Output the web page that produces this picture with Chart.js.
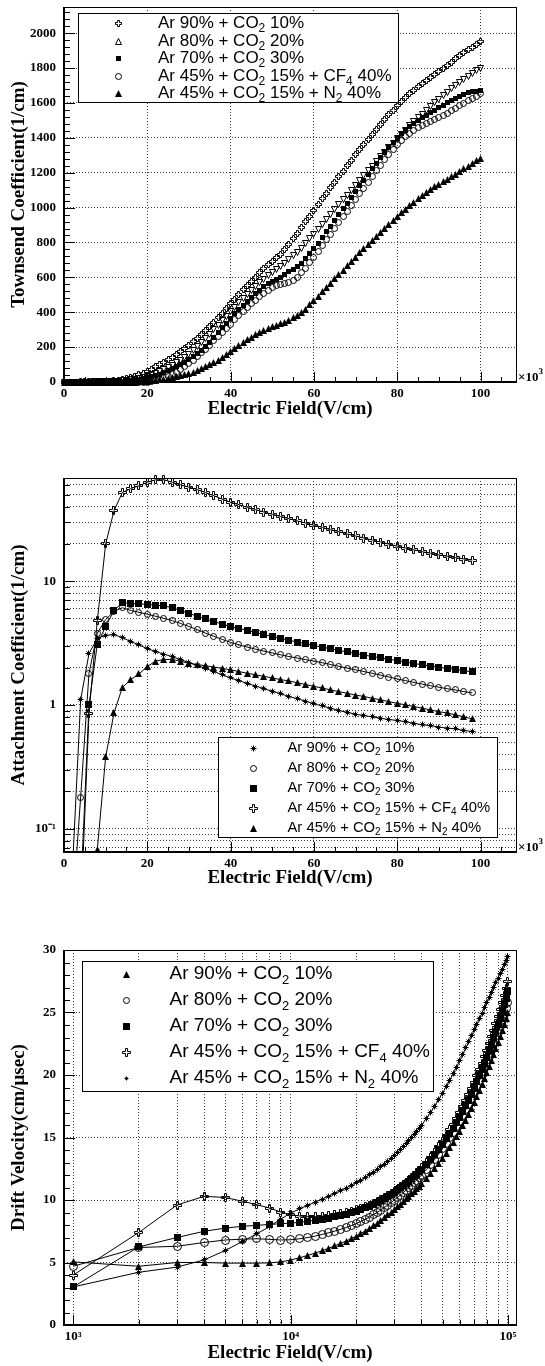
<!DOCTYPE html>
<html>
<head>
<meta charset="utf-8">
<script src="https://cdn.jsdelivr.net/npm/chart.js@4.4.1/dist/chart.umd.min.js"></script>
<style>
    html, body { margin: 0; padding: 0; background: #fff; }
    body { width: 545px; height: 1366px; position: relative; overflow: hidden; }
    canvas { position: absolute; left: 0; display: block; }
</style>
</head>
<body>
<canvas id="townsend" width="545" height="440" style="top:0px"></canvas>
<canvas id="attach" width="545" height="460" style="top:440px"></canvas>
<canvas id="drift" width="545" height="466" style="top:900px"></canvas>
<script>
// legend names, same order in the three panels
const gasMixtures = ['Ar 90% + CO_2 10%', 'Ar 80% + CO_2 20%', 'Ar 70% + CO_2 30%',
    'Ar 45% + CO_2 15% + CF_4 40%', 'Ar 45% + CO_2 15% + N_2 40%'];

// ---- Townsend coefficient (1/cm) vs field (kV/cm) ----
const townField = [0,1,2,3,4,5,6,7,8,9,10,11,12,13,14,15,16,17,18,19,20,21,22,23,24,25,26,27,28,29,
    30,31,32,33,34,35,36,37,38,39,40,41,42,43,44,45,46,47,48,49,50,51,52,53,54,55,56,57,58,59,
    60,61,62,63,64,65,66,67,68,69,70,71,72,73,74,75,76,77,78,79,80,81,82,83,84,85,86,87,88,89,
    90,91,92,93,94,95,96,97,98,99,100];
const townAr90 = [0, 0, 0, 0, 0.5, 1, 1, 2, 2, 3,
    4, 5, 7, 10, 14, 19, 25, 32, 41, 51,
    62, 74, 87, 100, 114, 128, 143, 159, 176, 194,
    212, 231, 251, 271, 293, 316, 341, 367, 394, 421,
    448, 475, 502, 528, 553, 578, 602, 626, 650, 672,
    693, 712, 732, 758, 790, 820, 852, 885, 918, 951,
    984, 1017, 1050, 1082, 1114, 1146, 1178, 1209, 1240, 1271,
    1302, 1332, 1362, 1392, 1421, 1450, 1478, 1506, 1533, 1559,
    1584, 1608, 1631, 1653, 1674, 1694, 1713, 1731, 1748, 1765,
    1782, 1799, 1816, 1834, 1852, 1870, 1888, 1904, 1920, 1935,
    1950];
const townAr80 = [0, 0, 0, 0, 0, 0, 0, 1, 1, 2,
    2, 3, 4, 5, 7, 9, 12, 16, 21, 27,
    34, 42, 51, 61, 72, 84, 97, 111, 126, 142,
    160, 180, 202, 225, 249, 274, 300, 326, 352, 378,
    404, 430, 455, 480, 504, 527, 549, 570, 590, 609,
    627, 645, 663, 682, 702, 723, 745, 768, 793, 820,
    848, 876, 904, 932, 960, 988, 1016, 1044, 1072, 1100,
    1128, 1156, 1184, 1211, 1238, 1265, 1292, 1318, 1344, 1370,
    1395, 1420, 1444, 1468, 1491, 1514, 1536, 1558, 1580, 1601,
    1622, 1642, 1662, 1681, 1699, 1716, 1733, 1750, 1767, 1784,
    1800];
const townAr70 = [0, 0, 0, 0, 0, 0, 0, 0, 1, 1,
    2, 2, 3, 4, 5, 7, 9, 12, 15, 19,
    24, 30, 37, 45, 54, 64, 75, 87, 100, 114,
    129, 145, 163, 183, 205, 229, 255, 282, 310, 338,
    365, 391, 416, 440, 463, 485, 506, 526, 545, 562,
    577, 590, 602, 616, 632, 646, 660, 682, 707, 735,
    765, 796, 828, 861, 894, 927, 960, 993, 1026, 1059,
    1092, 1125, 1158, 1190, 1222, 1254, 1285, 1315, 1344, 1372,
    1398, 1422, 1444, 1464, 1482, 1499, 1515, 1530, 1545, 1559,
    1573, 1587, 1600, 1613, 1626, 1638, 1649, 1658, 1664, 1668,
    1672];
const townCF4 = [0, 0, 0, 0, 0, 0, 0, 0, 0, 0,
    0, 0, 0, 0, 0, 0, 0, 0, 0, 0,
    0, 2, 6, 12, 20, 30, 42, 56, 72, 89,
    107, 126, 146, 167, 189, 212, 236, 260, 284, 308,
    332, 356, 380, 403, 426, 448, 469, 489, 508, 525,
    540, 551, 558, 563, 569, 582, 601, 625, 653, 684,
    716, 749, 782, 815, 848, 881, 914, 947, 980, 1013,
    1046, 1079, 1112, 1145, 1178, 1210, 1242, 1273, 1303, 1332,
    1359, 1384, 1406, 1425, 1442, 1457, 1470, 1482, 1493, 1504,
    1515, 1527, 1540, 1554, 1568, 1583, 1598, 1612, 1626, 1639,
    1652];
const townN2 = [0, 0, 0, 0, 0, 0, 0, 0, 0, 0,
    0, 0, 0, 0, 0, 0, 0, 0, 1, 2,
    4, 6, 9, 12, 16, 20, 25, 30, 36, 42,
    49, 57, 66, 76, 87, 99, 112, 126, 141, 157,
    174, 191, 208, 225, 241, 256, 270, 283, 295, 306,
    316, 325, 334, 343, 354, 367, 382, 399, 418, 443,
    470, 493, 517, 541, 566, 591, 616, 641, 666, 691,
    716, 740, 764, 788, 812, 836, 859, 882, 905, 927,
    949, 970, 991, 1011, 1031, 1050, 1069, 1087, 1104, 1120,
    1135, 1149, 1162, 1176, 1191, 1206, 1222, 1238, 1253, 1268,
    1283];
const townXTicks = [0, 20, 40, 60, 80, 100];
const townYTicks = [0, 200, 400, 600, 800, 1000, 1200, 1400, 1600, 1800, 2000];

// ---- Attachment coefficient (1/cm) vs field (kV/cm), log y ----
const attField = [2,4,6,8,10,12,14,16,18,20,22,24,26,28,30,32,34,36,38,40,42,44,46,48,50,
    52,54,56,58,60,62,64,66,68,70,72,74,76,78,80,82,84,86,88,90,92,94,96,98];
const attAr90 = [0.045, 1.1, 2.6, 3.45, 3.65, 3.7, 3.5, 3.25, 3.05, 2.85,
    2.7, 2.57, 2.45, 2.32, 2.2, 2.08, 1.97, 1.86, 1.75, 1.65,
    1.57, 1.49, 1.42, 1.35, 1.29, 1.23, 1.17, 1.12, 1.07, 1.02,
    0.98, 0.94, 0.9, 0.87, 0.84, 0.82, 0.8, 0.78, 0.76, 0.75,
    0.73, 0.71, 0.69, 0.68, 0.66, 0.65, 0.64, 0.62, 0.61];
const attAr80 = [0.02, 0.18, 1.8, 3.8, 4.9, 5.7, 6.1, 5.8, 5.6, 5.4,
    5.2, 5.0, 4.8, 4.55, 4.3, 4.05, 3.8, 3.58, 3.38, 3.2,
    3.06, 2.93, 2.82, 2.72, 2.63, 2.54, 2.46, 2.39, 2.32, 2.26,
    2.19, 2.12, 2.05, 1.98, 1.92, 1.86, 1.8, 1.74, 1.68, 1.62,
    1.57, 1.52, 1.47, 1.43, 1.39, 1.35, 1.32, 1.28, 1.25];
const attAr70 = [null, 0.03, 1.0, 3.1, 4.3, 5.8, 6.7, 6.6, 6.55, 6.5,
    6.4, 6.3, 6.1, 5.8, 5.5, 5.2, 4.95, 4.7, 4.5, 4.3,
    4.15, 4.0, 3.85, 3.7, 3.57, 3.45, 3.33, 3.22, 3.12, 3.02,
    2.93, 2.84, 2.76, 2.68, 2.6, 2.53, 2.46, 2.4, 2.34, 2.28,
    2.22, 2.16, 2.11, 2.06, 2.01, 1.97, 1.93, 1.89, 1.85];
const attCF4 = [null, 0.02, 0.85, 4.8, 20, 37, 52, 56, 59, 63,
    66, 66, 63, 60, 57.5, 55, 52, 49, 46, 43.5,
    41.5, 39.5, 37.8, 36.2, 34.7, 33.3, 32, 30.7, 29.5, 28.3,
    27.2, 26.1, 25.1, 24.1, 23.2, 22.3, 21.5, 20.7, 19.9, 19.2,
    18.5, 17.9, 17.3, 16.8, 16.3, 15.9, 15.5, 15.1, 14.8];
const attN2 = [null, null, null, 0.068, 0.38, 0.86, 1.38, 1.6, 1.78, 2.04,
    2.26, 2.33, 2.33, 2.25, 2.17, 2.12, 2.07, 2.02, 1.97, 1.92,
    1.86, 1.8, 1.75, 1.7, 1.65, 1.6, 1.56, 1.51, 1.46, 1.41,
    1.37, 1.32, 1.28, 1.24, 1.2, 1.17, 1.13, 1.1, 1.06, 1.03,
    1.0, 0.97, 0.94, 0.91, 0.88, 0.86, 0.83, 0.8, 0.77];
const attYGrid = [0.07, 0.08, 0.09, 0.1, 0.2, 0.3, 0.4, 0.5, 0.6, 0.7, 0.8, 0.9,
    1, 2, 3, 4, 5, 6, 7, 8, 9, 10, 20, 30, 40, 50, 60];
const attYLabels = { 0.1: '10\u207B\u00B9', 1: '1', 10: '10' };

// ---- Drift velocity (cm/us) vs field (V/cm), log x ----
const driftField = [1000, 2000, 3000, 4000, 5000, 6000, 7000, 8000, 9000, 10000,
    11000, 12000, 13000, 14000, 15000, 16000, 17000, 18000, 19000, 20000,
    21000, 22000, 23000, 24000, 25000, 26000, 27000, 28000, 29000, 30000,
    31000, 32000, 33000, 34000, 35000, 36000, 37000, 38000, 39000, 40000,
    42000, 44000, 46000, 48000, 50000, 52000, 54000, 56000, 58000, 60000,
    62000, 64000, 66000, 68000, 70000, 72000, 74000, 76000, 78000, 80000,
    82000, 84000, 86000, 88000, 90000, 92000, 94000, 96000, 98000, 100000];
const driftAr90 = [5.05, 4.7, 5.0, 5.0, 4.95, 4.95, 4.95, 4.97, 5.05, 5.2,
    5.38, 5.57, 5.76, 5.95, 6.15, 6.34, 6.53, 6.72, 6.91, 7.1,
    7.31, 7.52, 7.73, 7.94, 8.15, 8.37, 8.59, 8.81, 9.03, 9.25,
    9.46, 9.67, 9.88, 10.09, 10.3, 10.5, 10.7, 10.9, 11.1, 11.3,
    11.7, 12.1, 12.5, 12.9, 13.3, 13.74, 14.18, 14.62, 15.06, 15.5,
    15.94, 16.38, 16.84, 17.32, 17.8, 18.28, 18.76, 19.24, 19.72, 20.2,
    20.68, 21.16, 21.64, 22.12, 22.6, 23.08, 23.56, 24.04, 24.52, 25.0];
const driftAr80 = [4.7, 6.2, 6.3, 6.6, 6.8, 6.87, 6.9, 6.85, 6.8, 6.82,
    6.9, 7.0, 7.12, 7.25, 7.38, 7.52, 7.66, 7.8, 7.95, 8.1,
    8.28, 8.46, 8.64, 8.82, 9.0, 9.2, 9.4, 9.6, 9.8, 10.0,
    10.2, 10.4, 10.6, 10.8, 11.0, 11.2, 11.4, 11.6, 11.8, 12.0,
    12.41, 12.83, 13.25, 13.67, 14.1, 14.54, 14.98, 15.42, 15.86, 16.3,
    16.76, 17.22, 17.68, 18.14, 18.6, 19.08, 19.56, 20.04, 20.52, 21.0,
    21.48, 21.96, 22.44, 22.92, 23.4, 23.88, 24.36, 24.84, 25.32, 25.8];
const driftAr70 = [3.05, 6.25, 7.0, 7.5, 7.75, 7.9, 7.97, 8.05, 8.1, 8.15,
    8.22, 8.3, 8.38, 8.47, 8.56, 8.66, 8.76, 8.87, 8.98, 9.1,
    9.24, 9.38, 9.52, 9.67, 9.82, 9.98, 10.14, 10.3, 10.47, 10.64,
    10.81, 10.98, 11.16, 11.34, 11.52, 11.7, 11.89, 12.08, 12.27, 12.46,
    12.85, 13.25, 13.65, 14.06, 14.47, 14.89, 15.31, 15.74, 16.17, 16.6,
    17.06, 17.53, 18.0, 18.48, 18.96, 19.45, 19.94, 20.43, 20.93, 21.43,
    21.94, 22.45, 22.97, 23.49, 24.01, 24.54, 25.07, 25.61, 26.15, 26.7];
const driftCF4 = [4.0, 7.4, 9.6, 10.3, 10.2, 9.9, 9.62, 9.36, 9.04, 8.82,
    8.72, 8.68, 8.68, 8.71, 8.76, 8.83, 8.91, 9.0, 9.1, 9.21,
    9.33, 9.46, 9.6, 9.74, 9.89, 10.04, 10.2, 10.36, 10.53, 10.7,
    10.87, 11.05, 11.23, 11.41, 11.6, 11.79, 11.98, 12.18, 12.38, 12.58,
    12.99, 13.41, 13.84, 14.27, 14.71, 15.16, 15.61, 16.07, 16.53, 17.0,
    17.48, 17.96, 18.45, 18.94, 19.44, 19.94, 20.45, 20.96, 21.48, 22.0,
    22.53, 23.06, 23.6, 24.14, 24.69, 25.24, 25.8, 26.36, 26.93, 27.5];
const driftN2 = [3.05, 4.22, 4.63, 5.21, 5.96, 6.68, 7.3, 7.88, 8.47, 8.95,
    9.3, 9.58, 9.84, 10.08, 10.31, 10.53, 10.75, 10.96, 11.17, 11.38,
    11.59, 11.8, 12.01, 12.22, 12.44, 12.66, 12.88, 13.1, 13.33, 13.56,
    13.79, 14.02, 14.26, 14.5, 14.74, 14.98, 15.23, 15.48, 15.73, 15.98,
    16.49, 17.0, 17.52, 18.04, 18.56, 19.08, 19.6, 20.12, 20.64, 21.16,
    21.67, 22.17, 22.66, 23.14, 23.61, 24.07, 24.52, 24.96, 25.39, 25.81,
    26.22, 26.62, 27.01, 27.39, 27.76, 28.12, 28.47, 28.81, 29.14, 29.45];
const driftXGrid = [1000, 2000, 3000, 4000, 5000, 6000, 7000, 8000, 9000,
    10000, 20000, 30000, 40000, 50000, 60000, 70000, 80000, 90000, 100000];
const driftXLabels = { 1000: '10\u00B3', 10000: '10\u2074', 100000: '10\u2075' };
const driftYTicks = [0, 5, 10, 15, 20, 25, 30];

// ---------------------------------------------------------------
const SERIF = '"Liberation Serif", "Times New Roman", serif';
const SANS = '"Liberation Sans", Arial, sans-serif';
const GRID = 'rgba(0,0,0,0.75)';

Chart.defaults.font.family = SERIF;
Chart.defaults.color = '#000';

// ROOT-like marker shapes drawn once into small canvases (R = half size in px)
function marker(kind, R) {
    const w = 2 * R + 3;
    const c = document.createElement('canvas');
    c.width = w;
    c.height = w;
    const g = c.getContext('2d');
    const m = R + 1.5;
    g.strokeStyle = '#000';
    g.fillStyle = '#000';
    g.lineWidth = 1;
    g.beginPath();
    if (kind === 'square') {
        g.fillRect(m - R - 0.5, m - R - 0.5, 2 * R + 1, 2 * R + 1);
    } else if (kind === 'circle') {
        g.arc(m, m, R, 0, Math.PI * 2);
        g.stroke();
    } else if (kind === 'triangle') {
        g.moveTo(m, m - R - 0.5);
        g.lineTo(m + R + 0.5, m + R + 0.5);
        g.lineTo(m - R - 0.5, m + R + 0.5);
        g.closePath();
        g.fill();
    } else if (kind === 'triangleOpen') {
        g.moveTo(m, m - R);
        g.lineTo(m + R, m + R);
        g.lineTo(m - R, m + R);
        g.closePath();
        g.stroke();
    } else if (kind === 'triangleDown') {
        g.moveTo(m, m + R);
        g.lineTo(m + R, m - R);
        g.lineTo(m - R, m - R);
        g.closePath();
        g.stroke();
    } else if (kind === 'cross') {
        const t = 1;
        g.moveTo(m - t, m - R); g.lineTo(m + t, m - R); g.lineTo(m + t, m - t);
        g.lineTo(m + R, m - t); g.lineTo(m + R, m + t); g.lineTo(m + t, m + t);
        g.lineTo(m + t, m + R); g.lineTo(m - t, m + R); g.lineTo(m - t, m + t);
        g.lineTo(m - R, m + t); g.lineTo(m - R, m - t); g.lineTo(m - t, m - t);
        g.closePath();
        g.stroke();
    } else if (kind === 'star') {
        const d = R - 1;
        g.moveTo(m - R, m); g.lineTo(m + R, m);
        g.moveTo(m, m - R); g.lineTo(m, m + R);
        g.moveTo(m - d, m - d); g.lineTo(m + d, m + d);
        g.moveTo(m - d, m + d); g.lineTo(m + d, m - d);
        g.stroke();
    }
    return c;
}

function richText(ctx, text, x, y, size) {
    text.split(/(_\d)/).forEach(part => {
        if (!part) return;
        if (part[0] === '_') {
            ctx.font = Math.round(size * 0.7) + 'px ' + SANS;
            ctx.fillText(part.slice(1), x, y + size * 0.32);
            x += ctx.measureText(part.slice(1)).width;
        } else {
            ctx.font = size + 'px ' + SANS;
            ctx.fillText(part, x, y);
            x += ctx.measureText(part).width;
        }
    });
}

function drawLegend(ctx, L) {
    const [x0, y0, x1, y1] = L.box;
    ctx.fillStyle = '#fff';
    ctx.fillRect(x0, y0, x1 - x0, y1 - y0);
    ctx.strokeStyle = '#000';
    ctx.lineWidth = 1;
    ctx.strokeRect(x0 + 0.5, y0 + 0.5, x1 - x0, y1 - y0);
    ctx.fillStyle = '#000';
    ctx.textAlign = 'left';
    ctx.textBaseline = 'middle';
    gasMixtures.forEach((text, i) => {
        const y = L.rows[i];
        const m = L.markers[i];
        ctx.drawImage(m, Math.round(L.markerX - m.width / 2), Math.round(y - m.height / 2));
        richText(ctx, text, L.textX, y, L.size);
    });
}

// frame, inward ticks, x10^3 and legend, drawn on top of the data
function rootPad(cfg) {
    return {
        id: 'rootPad',
        beforeDatasetsDraw(chart) {
            chart.ctx.imageSmoothingEnabled = false;
        },
        afterDatasetsDraw(chart) {
            const ctx = chart.ctx;
            const {left, right, top, bottom} = chart.chartArea;
            const xs = chart.scales.x, ys = chart.scales.y;
            ctx.save();
            ctx.strokeStyle = '#000';
            ctx.lineWidth = 1;
            ctx.beginPath();
            const tickX = (vals, len) => vals.forEach(v => {
                const p = Math.round(xs.getPixelForValue(v)) + 0.5;
                ctx.moveTo(p, bottom);
                ctx.lineTo(p, bottom - len);
            });
            const tickY = (vals, len) => vals.forEach(v => {
                const p = Math.round(ys.getPixelForValue(v)) + 0.5;
                ctx.moveTo(left, p);
                ctx.lineTo(left + len, p);
            });
            tickX(cfg.xMajor, 10);
            tickX(cfg.xMinor, 5);
            tickY(cfg.yMajor, 11);
            tickY(cfg.yMinor, 6);
            ctx.stroke();

            const L = Math.round(left), R = Math.round(right), T = Math.round(top), B = Math.round(bottom);
            ctx.strokeRect(L + 0.5, T + 0.5, R - L, B - T);
            ctx.lineWidth = 2;
            ctx.beginPath();
            ctx.moveTo(L, T);
            ctx.lineTo(L, B);
            ctx.lineTo(R + 1, B);
            ctx.stroke();

            if (cfg.exponent) {
                ctx.fillStyle = '#000';
                ctx.textAlign = 'left';
                ctx.textBaseline = 'middle';
                ctx.font = 'bold 13px ' + SERIF;
                ctx.fillText('\u00D710', R + 2, B - 4);
                const w = ctx.measureText('\u00D710').width;
                ctx.font = 'bold 9px ' + SERIF;
                ctx.fillText('3', R + 2 + w, B - 10);
            }
            if (cfg.legend) drawLegend(ctx, cfg.legend);
            ctx.restore();
        }
    };
}

function fixAxis(size, horizontal) {
    return s => {
        if (horizontal) s.height = size; else s.width = size;
        s.paddingLeft = s.paddingRight = s.paddingTop = s.paddingBottom = 0;
    };
}

function xAxis(o) {
    return {
        type: o.type, min: o.min, max: o.max, position: 'bottom',
        afterBuildTicks: s => { s.ticks = o.grid.map(v => ({value: v})); },
        afterFit: fixAxis(o.height, true),
        grid: { color: GRID, lineWidth: 1, drawTicks: false },
        border: { display: false, dash: [1, 2] },
        ticks: { autoSkip: false, maxRotation: 0, padding: 4, color: '#000',
            font: { family: SERIF, weight: 'bold', size: 13 }, callback: o.label },
        title: { display: true, text: 'Electric Field(V/cm)', color: '#000',
            font: { family: SERIF, weight: 'bold', size: 19 }, padding: { top: 0, bottom: o.titlePad } }
    };
}

function yAxis(o) {
    return {
        type: o.type, min: o.min, max: o.max, position: 'left',
        afterBuildTicks: s => { s.ticks = o.grid.map(v => ({value: v})); },
        afterFit: fixAxis(64, false),
        grid: { color: GRID, lineWidth: 1, drawTicks: false },
        border: { display: false, dash: [1, 2] },
        ticks: { autoSkip: false, padding: 8, color: '#000',
            font: { family: SERIF, weight: 'bold', size: 13 }, callback: o.label },
        title: { display: true, text: o.title, color: '#000',
            font: { family: SERIF, weight: 'bold', size: 19 }, padding: { top: o.titlePad, bottom: 0 } }
    };
}

function series(xs, ys, style, extra) {
    return Object.assign({
        data: xs.map((x, i) => ({x: x, y: ys[i]})),
        pointStyle: style,
        pointRadius: 3,
        borderColor: '#000',
        backgroundColor: '#000',
        borderWidth: 1,
        tension: 0
    }, extra || {});
}

function baseOptions(padTop, scales) {
    return {
        responsive: false,
        animation: false,
        devicePixelRatio: 1,
        events: [],
        layout: { padding: { left: 0, right: 29, top: padTop, bottom: 0 } },
        plugins: { legend: { display: false }, tooltip: { enabled: false } },
        scales: scales
    };
}

function range(a, b, step, skip) {
    const out = [];
    for (let v = a; v <= b + 1e-9; v += step) {
        if (!skip || Math.abs(v / skip - Math.round(v / skip)) > 1e-6) out.push(+v.toFixed(6));
    }
    return out;
}

function logMinor(lo, hi) {
    const out = [];
    for (let e = -3; e <= 6; e++) {
        for (let k = 2; k <= 9; k++) {
            const v = k * Math.pow(10, e);
            if (v > lo && v < hi) out.push(v);
        }
    }
    return out;
}

// ---------------- panel 1: Townsend coefficient ----------------
const m1 = {
    cross: marker('cross', 3), triDown: marker('triangleDown', 3), tri: marker('triangleOpen', 3),
    square: marker('square', 2), circle: marker('circle', 3), triFill: marker('triangle', 3)
};
new Chart(document.getElementById('townsend'), {
    type: 'scatter',
    data: {
        datasets: [
            series(townField, townAr90, m1.cross, { clip: false }),
            series(townField, townAr80, m1.triDown, { clip: false }),
            series(townField, townAr70, m1.square, { clip: false }),
            series(townField, townCF4, m1.circle, { clip: false }),
            series(townField, townN2, m1.triFill, { clip: false })
        ]
    },
    options: baseOptions(7, {
        x: xAxis({ type: 'linear', min: 0, max: 108.5, grid: townXTicks, height: 58, titlePad: 20,
            label: v => String(v) }),
        y: yAxis({ type: 'linear', min: 0, max: 2150, grid: townYTicks, titlePad: 7.6,
            title: 'Townsend Coefficient(1/cm)', label: v => String(v) })
    }),
    plugins: [rootPad({
        xMajor: townXTicks, xMinor: range(0, 108, 5, 20),
        yMajor: townYTicks, yMinor: range(0, 2140, 40, 200),
        exponent: true,
        legend: { box: [78, 13, 398, 102], rows: [23.5, 41, 58.5, 76, 93.5], markerX: 118, textX: 158, size: 17,
            markers: [m1.cross, m1.tri, m1.square, m1.circle, m1.triFill] }
    })]
});

// ---------------- panel 2: attachment coefficient ----------------
const m2 = {
    star: marker('star', 3), circle: marker('circle', 3), square: marker('square', 3),
    cross: marker('cross', 4), tri: marker('triangle', 3)
};
const clip2 = { left: 0, right: 0, top: 6, bottom: 0 };
new Chart(document.getElementById('attach'), {
    type: 'scatter',
    data: {
        datasets: [
            series(attField, attAr90, m2.star, { showLine: true, clip: clip2 }),
            series(attField, attAr80, m2.circle, { showLine: true, clip: clip2 }),
            series(attField, attAr70, m2.square, { showLine: true, clip: clip2 }),
            series(attField, attCF4, m2.cross, { showLine: true, clip: clip2 }),
            series(attField, attN2, m2.tri, { showLine: true, clip: clip2 })
        ]
    },
    options: baseOptions(38, {
        x: xAxis({ type: 'linear', min: 0, max: 108.5, grid: townXTicks, height: 48, titlePad: 10.6,
            label: v => String(v) }),
        y: yAxis({ type: 'logarithmic', min: 0.0647, max: 68.2, grid: attYGrid, titlePad: 7.6,
            title: 'Attachment Coefficient(1/cm)', label: v => attYLabels[v] || '' })
    }),
    plugins: [rootPad({
        xMajor: townXTicks, xMinor: range(0, 108, 5, 20),
        yMajor: [0.1, 1, 10], yMinor: logMinor(0.0647, 68.2),
        exponent: true,
        legend: { box: [218, 297, 497, 397], rows: [308, 328, 348, 368, 388], markerX: 253, textX: 287.5, size: 14.8,
            markers: [m2.star, m2.circle, m2.square, m2.cross, m2.tri] }
    })]
});

// ---------------- panel 3: drift velocity ----------------
const m3 = {
    tri: marker('triangle', 3), circle: marker('circle', 4), square: marker('square', 3),
    cross: marker('cross', 4), star: marker('star', 3)
};
const m3legend = [marker('triangle', 3), marker('circle', 3), marker('square', 3), marker('cross', 4), marker('star', 2)];
new Chart(document.getElementById('drift'), {
    type: 'scatter',
    data: {
        datasets: [
            series(driftField, driftAr90, m3.tri, { showLine: true }),
            series(driftField, driftAr80, m3.circle, { showLine: true }),
            series(driftField, driftAr70, m3.square, { showLine: true }),
            series(driftField, driftCF4, m3.cross, { showLine: true }),
            series(driftField, driftN2, m3.star, { showLine: true })
        ]
    },
    options: baseOptions(50, {
        x: xAxis({ type: 'logarithmic', min: 906, max: 108900, grid: driftXGrid, height: 41, titlePad: 1.6,
            label: v => driftXLabels[v] || '' }),
        y: yAxis({ type: 'linear', min: 0, max: 30, grid: driftYTicks, titlePad: 7.6,
            title: 'Drift Velocity(cm/\u03BCsec)', label: v => String(v) })
    }),
    plugins: [rootPad({
        xMajor: [1000, 10000, 100000], xMinor: logMinor(906, 108900),
        yMajor: driftYTicks, yMinor: range(0, 30, 1, 5),
        exponent: false,
        legend: { box: [82, 61, 433, 191], rows: [74, 100, 126, 152, 178], markerX: 126, textX: 169.5, size: 19,
            markers: m3legend }
    })]
});
</script>
</body>
</html>
